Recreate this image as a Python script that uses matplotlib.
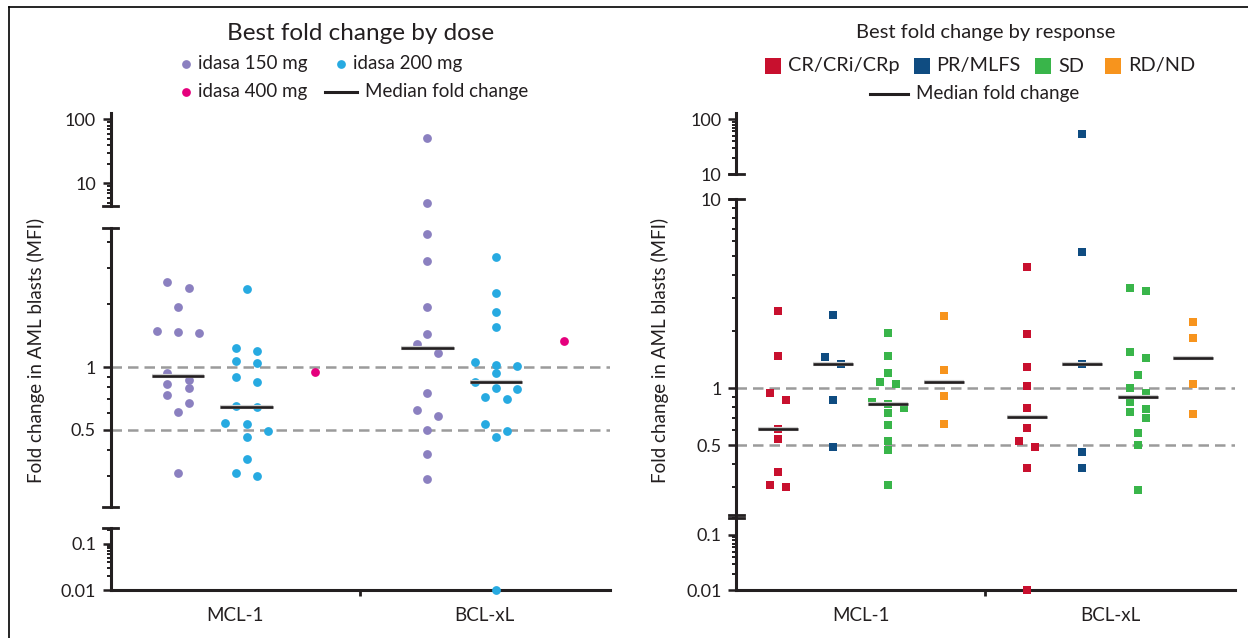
import numpy as np
import matplotlib.pyplot as plt
from matplotlib.lines import Line2D
from matplotlib.ticker import FixedLocator, FuncFormatter, NullFormatter
import matplotlib.patheffects as pe

plt.rcParams['font.family'] = ['Lato', 'DejaVu Sans']
INK = '#231f20'

categories = ['MCL-1', 'BCL-xL']

# best fold change by dose
dose_labels = ['idasa 150 mg', 'idasa 200 mg', 'idasa 400 mg']
dose_colors = ['#8b80c0', '#27aae1', '#e5007d']
mcl1_150 = [2.56, 2.41, 1.95, 1.49, 1.47, 1.46, 0.94, 0.87, 0.83, 0.79, 0.73, 0.67, 0.61, 0.31]
mcl1_200 = [2.38, 1.24, 1.20, 1.07, 1.05, 0.90, 0.85, 0.65, 0.64, 0.54, 0.53, 0.49, 0.46, 0.36, 0.31, 0.30]
mcl1_400 = [0.95]
bclxl_150 = [51.6, 4.87, 4.35, 3.23, 1.95, 1.44, 1.29, 1.17, 0.75, 0.62, 0.58, 0.50, 0.38, 0.29]
bclxl_200 = [3.39, 2.27, 1.84, 1.55, 1.06, 1.02, 1.01, 0.94, 0.85, 0.79, 0.78, 0.72, 0.70, 0.53, 0.49, 0.46, 0.01]
bclxl_400 = [1.33]

# best fold change by response
resp_labels = ['CR/CRi/CRp', 'PR/MLFS', 'SD', 'RD/ND']
resp_colors = ['#c8102e', '#0f4c81', '#39b54a', '#f7941d']
mcl1_cr = [2.58, 1.48, 0.94, 0.87, 0.61, 0.54, 0.36, 0.31, 0.30]
mcl1_pr = [2.43, 1.47, 1.34, 0.87, 0.49]
mcl1_sd = [1.97, 1.48, 1.20, 1.08, 1.05, 0.85, 0.83, 0.79, 0.74, 0.64, 0.53, 0.47, 0.31]
mcl1_rd = [2.40, 1.25, 0.91, 0.65]
bclxl_cr = [4.38, 1.95, 1.30, 1.03, 0.79, 0.62, 0.53, 0.49, 0.38, 0.01]
bclxl_pr = [53.4, 5.27, 1.34, 0.46, 0.38]
bclxl_sd = [3.38, 3.26, 1.56, 1.45, 1.17, 1.01, 0.95, 0.85, 0.78, 0.75, 0.70, 0.58, 0.50, 0.29]
bclxl_rd = [2.25, 1.85, 1.05, 0.73]

W, H = 1248, 638
fig = plt.figure(figsize=(W / 100, H / 100), dpi=100)


def fx(px):
    return px / W


def fy(py):
    return 1 - py / H


def seg_of(v, segs):
    for k, s in enumerate(segs):
        if s[2] <= v <= s[3]:
            return k
    return None


def swarm(vals, axes, segs, half, bin_px, ppu):
    # group points into rows of close pixel height, spread each row symmetrically
    ys = np.array([axes[seg_of(v, segs)].transData.transform((0, v))[1] for v in vals])
    order = np.argsort(-np.asarray(vals), kind='stable')
    out = np.zeros(len(vals))
    rows, row = [], []
    for i in order:
        if row and ys[row[0]] - ys[i] > bin_px:
            rows.append(row)
            row = []
        row.append(i)
    rows.append(row)
    for row in rows:
        n = len(row)
        for j, idx in enumerate(row):
            out[idx] = (j - (n - 1) / 2) * 2 * half / ppu
    return out


def cap(x, y, half=7.5):
    fig.add_artist(Line2D([fx(x - half), fx(x + half)], [fy(y), fy(y)],
                          transform=fig.transFigure, color=INK, lw=2.0))


def panel(x0, x1, segs, majors, data, colors, offsets, marker, msize, half, bin_px, half_med, caps):
    axes = []
    for k, ((yt, yb, lo, hi), maj) in enumerate(zip(segs, majors)):
        ax = fig.add_axes([fx(x0), fy(yb), (x1 - x0) / W, (yb - yt) / H])
        ax.set_yscale('log')
        ax.set_ylim(lo, hi)
        ax.set_xlim(-0.5, 1.5)
        ax.patch.set_alpha(0)
        for s in ['top', 'right']:
            ax.spines[s].set_visible(False)
        last = k == len(segs) - 1
        ax.spines['bottom'].set_visible(last)
        for s in ['left', 'bottom']:
            ax.spines[s].set_linewidth(2.2)
            ax.spines[s].set_color(INK)
        minors = [m * 10.0 ** e for e in range(-3, 3) for m in range(1, 10)
                  if lo * 0.999 <= m * 10.0 ** e <= hi * 1.001 and not np.any(np.isclose(m * 10.0 ** e, maj))]
        ax.yaxis.set_major_locator(FixedLocator(maj))
        ax.yaxis.set_minor_locator(FixedLocator(minors))
        ax.yaxis.set_major_formatter(FuncFormatter(lambda v, _: f'{v:g}'))
        ax.yaxis.set_minor_formatter(NullFormatter())
        ax.tick_params(axis='y', which='major', length=5.5, width=1.8, color=INK,
                       labelsize=13, labelcolor=INK, pad=5)
        ax.tick_params(axis='y', which='minor', length=3, width=1.4, color=INK)
        if last:
            ax.set_xticks([0, 1], categories)
            ax.set_xticks([0.5], minor=True)
            ax.tick_params(axis='x', which='major', length=0, labelsize=13.5, labelcolor=INK, pad=12)
            ax.tick_params(axis='x', which='minor', length=4.5, width=2, color=INK)
        else:
            ax.set_xticks([])
        axes.append(ax)

    mid = axes[1]
    for yv in (1, 0.5):
        mid.axhline(yv, color='#9b9b9b', lw=1.8, dashes=(4.2, 2.4), zorder=1)

    ppu = (x1 - x0) / 2.0
    for i, groups in enumerate(data):
        for j, vals in enumerate(groups):
            vals = np.asarray(vals, dtype=float)
            xs = i + offsets[j] + swarm(vals, axes, segs, half, bin_px, ppu)
            segidx = np.array([seg_of(v, segs) for v in vals])
            for k, ax in enumerate(axes):
                m = segidx == k
                if m.any():
                    ax.scatter(xs[m], vals[m], s=msize, marker=marker, color=colors[j],
                               linewidths=0, zorder=3, clip_on=False)
            if len(vals) < 2:
                continue
            med = np.median(vals)
            axm = axes[seg_of(med, segs)]
            axm.plot([i + offsets[j] - half_med, i + offsets[j] + half_med], [med, med],
                     color=INK, lw=1.9, zorder=4, solid_capstyle='butt',
                     path_effects=[pe.Stroke(linewidth=3.0, foreground='#d0d0d0'), pe.Normal()])
    for y in caps:
        cap(x0, y)
    return axes


left_segs = [(112.7, 205.7, 4.47, 126.8), (227.7, 506.7, 0.213, 4.68), (528.3, 590.3, 0.01, 0.214)]
right_segs = [(112.7, 174.3, 10, 131.8), (199.3, 515.0, 0.214, 10), (518.3, 590.3, 0.01, 0.2)]

panel(110.7, 609.5, left_segs, [[10, 100], [0.5, 1], [0.01, 0.1]],
      [[mcl1_150, mcl1_200, mcl1_400], [bclxl_150, bclxl_200, bclxl_400]],
      dose_colors, [-0.23, 0.045, 0.318], 'o', 40, 10.7, 9.0, 0.105,
      [205.7, 227.7, 506.7, 528.3])

panel(736.1, 1234.7, right_segs, [[10, 100], [0.5, 1, 10], [0.01, 0.1]],
      [[mcl1_cr, mcl1_pr, mcl1_sd, mcl1_rd], [bclxl_cr, bclxl_pr, bclxl_sd, bclxl_rd]],
      resp_colors, [-0.333, -0.111, 0.111, 0.333], 's', 40, 8.0, 8.5, 0.08,
      [174.3, 199.3, 515.0, 518.3])

# titles and y labels
fig.text(fx(361), fy(33), 'Best fold change by dose', ha='center', va='center', fontsize=17.5, color=INK)
fig.text(fx(985.4), fy(32.3), 'Best fold change by response', ha='center', va='center', fontsize=14.5, color=INK)
ylab = 'Fold change in AML blasts (MFI)'
fig.text(fx(35.6), fy(350), ylab, rotation=90, ha='center', va='center', fontsize=13.5, color=INK)
fig.text(fx(660), fy(350), ylab, rotation=90, ha='center', va='center', fontsize=13.5, color=INK)


# legends
def key_marker(x, y, marker, color, ms):
    fig.add_artist(Line2D([fx(x)], [fy(y)], transform=fig.transFigure, marker=marker,
                          markersize=ms, color=color, markeredgewidth=0, linestyle='none'))


def key_line(xa, xb, y):
    fig.add_artist(Line2D([fx(xa), fx(xb)], [fy(y), fy(y)], transform=fig.transFigure,
                          color=INK, lw=2.2))


def key_text(x, y, s, size=13.5):
    fig.text(fx(x), fy(y), s, ha='left', va='center', fontsize=size, color=INK)


key_marker(186, 64, 'o', dose_colors[0], 6.3)
key_text(198.5, 64, dose_labels[0])
key_marker(341, 64, 'o', dose_colors[1], 6.3)
key_text(353, 64, dose_labels[1])
key_marker(186, 92, 'o', dose_colors[2], 6.3)
key_text(198.5, 92, dose_labels[2])
key_line(325.3, 357, 92)
key_text(365, 92, 'Median fold change')

for cx, tx, lab, col in zip([773, 922, 1042.5, 1113], [788, 936.4, 1058.5, 1127.8], resp_labels, resp_colors):
    key_marker(cx, 66, 's', col, 11.5)
    key_text(tx, 66, lab, 14.3)
key_line(870.3, 907.5, 94)
key_text(916.4, 94, 'Median fold change')

# outer frame (top and left edges only)
fig.add_artist(Line2D([fx(8.7), 1], [fy(7.3), fy(7.3)], transform=fig.transFigure, color='black', lw=1.2))
fig.add_artist(Line2D([fx(8.7), fx(8.7)], [fy(7.3), 0], transform=fig.transFigure, color='black', lw=1.2))

fig.savefig('out.png', dpi=100)
